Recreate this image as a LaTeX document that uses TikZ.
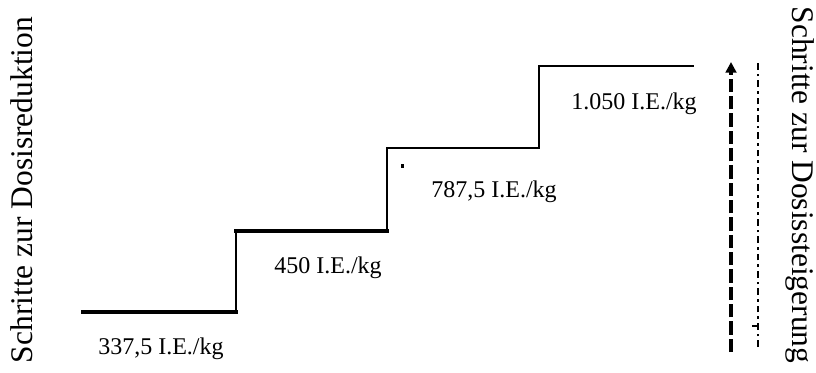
\documentclass[tikz,border=0pt]{standalone}
\usepackage{fontspec}
\setmainfont{Liberation Serif}
\usetikzlibrary{arrows.meta}
\tikzset{
  lbl/.style={inner sep=0pt, anchor=base, font=\fontsize{18}{20}\selectfont},
  side/.style={inner sep=0pt, font=\fontsize{23.6}{26}\selectfont},
  stair/.style={line cap=rect, line join=miter},
}
\begin{document}
\begin{tikzpicture}[x=0.75pt,y=-0.75pt]
\useasboundingbox (0,0) rectangle (816,372);
% staircase corner coordinates
\coordinate (s0) at (83,312);
\coordinate (s1) at (236,312);
\coordinate (s2) at (236,231);
\coordinate (s3) at (387,231);
\coordinate (s4) at (387,148);
\coordinate (s5) at (539,148);
\coordinate (s6) at (539,66);
\coordinate (s7) at (693,66);
\draw[stair, line width=3.6pt] (s0) -- (s1);
\draw[stair, line width=2pt] (s1) -- (s2);
\draw[stair, line width=3pt] (s2) -- (s3);
\draw[stair, line width=2pt] (s3) -- (s4);
\draw[stair, line width=1.8pt] (s4) -- (s5);
\draw[stair, line width=1.5pt] (s5) -- (s6);
\draw[stair, line width=1.5pt] (s6) -- (s7);
% labels
\node[lbl] (l1) at (161,354) {337,5 I.E./kg};
\node[lbl] (l2) at (328,273) {450 I.E./kg};
\node[lbl] (l3) at (494,197) {787,5 I.E./kg};
\node[lbl] (l4) at (634,109) {1.050 I.E./kg};
% side texts
\node[side, rotate=90] (left) at (22,190) {Schritte zur Dosisreduktion};
\node[side, rotate=-90] (right) at (800,185) {Schritte zur Dosissteigerung};
% arrows
\coordinate (a0) at (731,352);
\coordinate (a1) at (731,62);
\draw[line width=2.6pt, dash pattern=on 10pt off 3pt, -{Triangle[width=8pt,length=8pt]}] (a0) -- (a1);
\coordinate (b0) at (758,347);
\coordinate (b1) at (758,63);
\draw[line width=1.6pt, dash pattern=on 5pt off 3pt on 2pt off 3pt] (b0) -- (b1);
\coordinate (t0) at (752,326);
\coordinate (t1) at (758,326);
\draw[line width=2pt] (t0) -- (t1);
\fill (401,164) rectangle (404,168);
\end{tikzpicture}
\end{document}
